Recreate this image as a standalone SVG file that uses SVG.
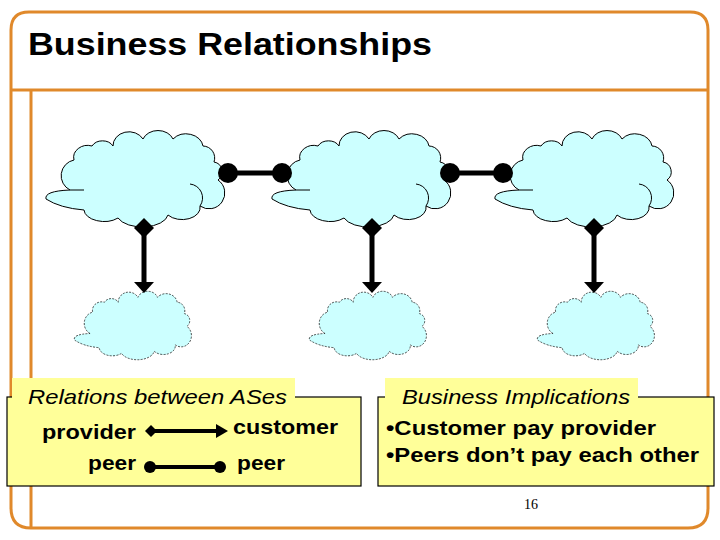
<svg xmlns="http://www.w3.org/2000/svg" xmlns:xlink="http://www.w3.org/1999/xlink" width="720" height="540" viewBox="0 0 720 540">
<style>
.frame{fill:none;stroke:#E0892B;stroke-width:3}
.big{fill:#CCFFFF;stroke:#000;stroke-width:1}
.small{fill:#CCFFFF;stroke:#000;stroke-width:1;stroke-dasharray:3 2}
.inner{fill:none;stroke:#000;stroke-width:1}
.conn{stroke:#000;stroke-width:5;fill:none}
.lconn{stroke:#000;stroke-width:4;fill:none}
.blk{fill:#000}
.box{fill:#FFFF99;stroke:#000;stroke-width:1.2}
.lab{fill:#FFFF99}
.t{font-family:"Liberation Sans",Arial,sans-serif;fill:#000}
.b{font-weight:bold}
.i{font-style:italic}
</style>
<defs>
<path id="cloud" d="M 70 190 A 16 16 0 0 1 74 160 A 14 12 0 0 1 92 146 A 12 10 0 0 1 113 146 A 16 14 0 0 1 143 139 A 16 13 0 0 1 173 139 A 17 14 0 0 1 203 146 A 12 12 0 0 1 214 162 A 10 10 0 0 1 218 180 A 14 14 0 0 1 200 206 A 18 12 0 0 1 168 215 A 26 14 0 0 1 118 218 A 20 12 0 0 1 84 210 Q 60 208 46 199 Q 44 191 70 190 Z"/>
</defs>
<rect width="720" height="540" fill="#fff"/>
<g id="frame">
<path class="frame" d="M 11 30 Q 11 12 29 12 L 690 12 Q 708 12 708 30 L 708 508 Q 708 528 688 528 L 31 528 Q 11 528 11 508 Z"/>
<line class="frame" x1="11" y1="90" x2="708" y2="90"/>
<line class="frame" x1="31" y1="90" x2="31" y2="528"/>
</g>
<text class="t b" x="28" y="55" font-size="31" textLength="404" lengthAdjust="spacingAndGlyphs">Business Relationships</text>
<g id="as1"><use href="#cloud" class="big"/><path class="inner" d="M 190 184 A 14 14 0 0 1 200 206 M 70 190 L 84 190"/></g>
<g id="as2" transform="translate(226,0)"><use href="#cloud" class="big"/><path class="inner" d="M 190 184 A 14 14 0 0 1 200 206 M 70 190 L 84 190"/></g>
<g id="as3" transform="translate(449,0)"><use href="#cloud" class="big"/><path class="inner" d="M 190 184 A 14 14 0 0 1 200 206 M 70 190 L 84 190"/></g>
<g id="cust1" transform="translate(44.2,198.6) scale(0.655,0.71)"><use href="#cloud" class="small" vector-effect="non-scaling-stroke"/></g>
<g id="cust2" transform="translate(279.2,198.6) scale(0.655,0.71)"><use href="#cloud" class="small" vector-effect="non-scaling-stroke"/></g>
<g id="cust3" transform="translate(507.2,198.6) scale(0.655,0.71)"><use href="#cloud" class="small" vector-effect="non-scaling-stroke"/></g>
<g id="connectors">
<line class="conn" x1="228" y1="173" x2="282" y2="173"/>
<circle class="blk" cx="228" cy="173" r="10"/>
<circle class="blk" cx="282" cy="173" r="10"/>
<line class="conn" x1="450" y1="173" x2="503" y2="173"/>
<circle class="blk" cx="450" cy="173" r="10"/>
<circle class="blk" cx="503" cy="173" r="10"/>
<line class="conn" x1="144" y1="228" x2="144" y2="284"/>
<polygon class="blk" points="144,218 154,228 144,238 134,228"/>
<polygon class="blk" points="134,282 154,282 144,293"/>
<line class="conn" x1="372" y1="228" x2="372" y2="284"/>
<polygon class="blk" points="372,218 382,228 372,238 362,228"/>
<polygon class="blk" points="362,282 382,282 372,293"/>
<line class="conn" x1="594" y1="228" x2="594" y2="284"/>
<polygon class="blk" points="594,218 604,228 594,238 584,228"/>
<polygon class="blk" points="584,282 604,282 594,293"/>
</g>
<g id="legend1">
<rect class="box" x="7" y="397" width="354" height="89"/>
<rect class="lab" x="12" y="378" width="283" height="20"/>
<text class="t i" x="28" y="404" font-size="21" textLength="259" lengthAdjust="spacingAndGlyphs">Relations between ASes</text>
<text class="t b" x="42" y="439" font-size="21" textLength="94" lengthAdjust="spacingAndGlyphs">provider</text>
<text class="t b" x="233" y="434" font-size="21" textLength="105" lengthAdjust="spacingAndGlyphs">customer</text>
<text class="t b" x="88" y="470" font-size="21" textLength="48" lengthAdjust="spacingAndGlyphs">peer</text>
<text class="t b" x="237" y="470" font-size="21" textLength="48" lengthAdjust="spacingAndGlyphs">peer</text>
<line class="lconn" x1="151" y1="431" x2="219" y2="431"/>
<polygon class="blk" points="151,425 157,431 151,437 145,431"/>
<polygon class="blk" points="216,424 228,431 216,438"/>
<line class="lconn" x1="150" y1="467" x2="220" y2="467"/>
<circle class="blk" cx="150" cy="467" r="6"/>
<circle class="blk" cx="220" cy="467" r="6"/>
</g>
<g id="legend2">
<rect class="box" x="378" y="397" width="336" height="89"/>
<rect class="lab" x="385" y="378" width="253" height="20"/>
<text class="t i" x="402" y="404" font-size="21" textLength="228" lengthAdjust="spacingAndGlyphs">Business Implications</text>
<text class="t b" x="386" y="435" font-size="21" textLength="270" lengthAdjust="spacingAndGlyphs">•Customer pay provider</text>
<text class="t b" x="386" y="462" font-size="21" textLength="313" lengthAdjust="spacingAndGlyphs">•Peers don’t pay each other</text>
</g>
<text x="524" y="509" font-family="'Liberation Serif','Times New Roman',serif" font-size="14">16</text>
</svg>
